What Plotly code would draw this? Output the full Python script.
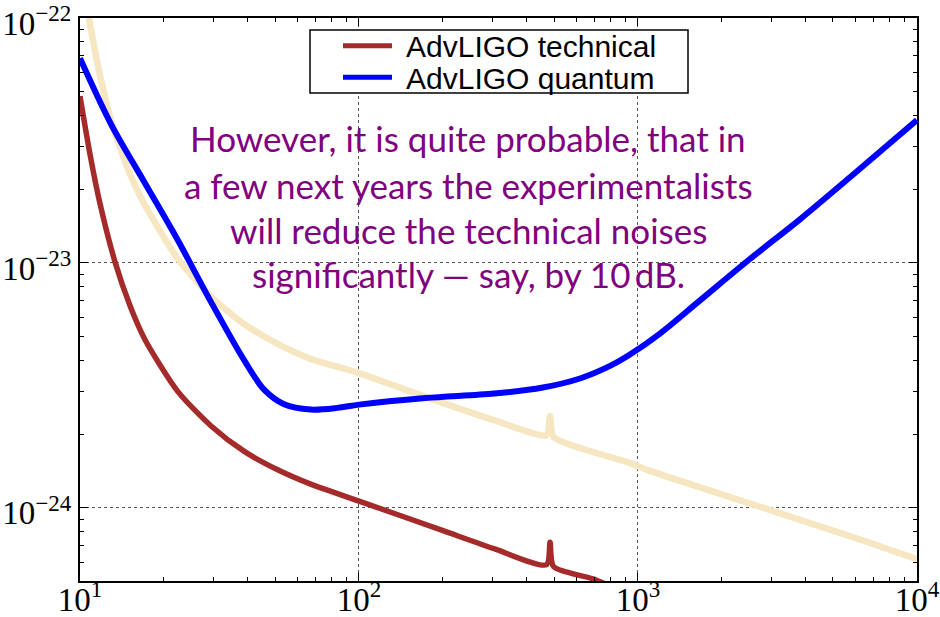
import plotly.graph_objects as go

# ---- data (frequency in Hz, strain amplitude) ----
tech_f = [10, 10.86, 11.79, 13.35, 15.1, 17.1, 22.4, 29.5, 38.8, 51.1, 67.1, 100, 199, 305, 470, 484, 498, 689, 1000]
tech_h = [4.80e-23, 2.78e-23, 1.75e-23, 1.01e-23, 6.70e-24, 4.86e-24, 2.99e-24, 2.16e-24, 1.70e-24,
          1.43e-24, 1.25e-24, 1.066e-24, 8.09e-25, 6.81e-25, 5.86e-25, 7.24e-25, 5.76e-25, 5.13e-25, 4.27e-25]

quant_f = [10, 12.9, 17.0, 22.4, 29.5, 38.8, 45.7, 53.9, 67.1, 83.7, 100, 173, 305, 456, 619, 794, 936,
           1199, 1668, 2480, 3807, 5754, 10000]
quant_h = [6.85e-23, 3.70e-23, 2.14e-23, 1.24e-23, 6.92e-24, 4.0e-24, 3.04e-24, 2.65e-24, 2.52e-24, 2.56e-24,
           2.64e-24, 2.81e-24, 2.93e-24, 3.10e-24, 3.375e-24, 3.80e-24, 4.23e-24,
           5.15e-24, 7.03e-24, 1.023e-23, 1.507e-23, 2.239e-23, 3.83e-23]

orig_f = [10, 10.57, 11.32, 12.09, 13.02, 15.11, 17.0, 22.4, 29.5, 38.8, 51.1, 67.1, 100, 173, 305, 470, 484, 498,
          944, 1099, 2818, 6427, 10000]
orig_h = [1.70e-22, 1.13e-22, 7.33e-23, 5.15e-23, 3.70e-23, 2.30e-23, 1.74e-23, 1.04e-23, 7.28e-24, 5.62e-24,
          4.67e-24, 4.06e-24, 3.55e-24, 2.84e-24, 2.28e-24, 1.98e-24, 2.37e-24, 1.95e-24,
          1.52e-24, 1.42e-24, 1.0e-24, 7.35e-25, 6.18e-25]

x_tickvals = [10, 100, 1000, 10000]
x_ticktext = ["10<sup>1</sup>", "10<sup>2</sup>", "10<sup>3</sup>", "10<sup>4</sup>"]
y_tickvals = [1e-24, 1e-23, 1e-22]
y_ticktext = ["10<sup>\u221224</sup>", "10<sup>\u221223</sup>", "10<sup>\u221222</sup>"]
x_minor = [m * d for d in (10, 100, 1000) for m in range(2, 10)]
y_minor = [m * d for d in (1e-25, 1e-24, 1e-23) for m in range(2, 10)]

legend_labels = ["AdvLIGO technical", "AdvLIGO quantum"]
note_lines = ["However, it is quite probable, that in",
              "a few next years the experimentalists",
              "will reduce the technical noises",
              "significantly \u2014 say, by 10\u2009dB."]

BROWN = "#a52a2a"
BLUE = "#0000ff"
CREAM = "rgb(246,230,193)"

fig = go.Figure()
fig.add_trace(go.Scatter(x=orig_f, y=orig_h, mode="lines",
                         line=dict(color=CREAM, width=6.5, shape="spline", smoothing=0.6),
                         showlegend=False))
fig.add_trace(go.Scatter(x=tech_f, y=tech_h, mode="lines",
                         line=dict(color=BROWN, width=5.5, shape="spline", smoothing=0.7),
                         name=legend_labels[0], showlegend=False))
fig.add_trace(go.Scatter(x=quant_f, y=quant_h, mode="lines",
                         line=dict(color=BLUE, width=6, shape="spline", smoothing=0.9),
                         name=legend_labels[1], showlegend=False))

L, R, T, B = 80, 917, 18, 581
W, H = 940, 617
def px(xp):
    return (xp - L) / (R - L)
def py(yp):
    return (B - yp) / (B - T)

axis_common = dict(
    type="log", showline=True, linewidth=2, linecolor="black", mirror="ticks",
    ticks="inside", ticklen=8, tickwidth=1, tickcolor="black",
    showgrid=True, gridcolor="#555", gridwidth=1, griddash="dot",
    zeroline=False, automargin=False, ticklabeloverflow="allow",
    tickfont=dict(family="Liberation Serif, DejaVu Serif, serif", size=33, color="black"),
)

fig.update_layout(
    width=W, height=H,
    margin=dict(l=L, r=W - R, t=T, b=H - B),
    paper_bgcolor="white", plot_bgcolor="white",
    xaxis=dict(range=[1, 4.0001], tickmode="array", tickvals=x_tickvals, ticktext=x_ticktext,
               ticklabelstandoff=-12,
               minor=dict(tickmode="array", tickvals=x_minor, ticks="inside", ticklen=4,
                          tickcolor="black", tickwidth=1, showgrid=False),
               **axis_common),
    yaxis=dict(range=[-24.2986, -21.9999], tickmode="array", tickvals=y_tickvals, ticktext=y_ticktext,
               ticklabelshift=5,
               minor=dict(tickmode="array", tickvals=y_minor, ticks="inside", ticklen=4,
                          tickcolor="black", tickwidth=1, showgrid=False),
               **axis_common),
    showlegend=False,
)

# manual legend
shapes = [dict(type="rect", xref="paper", yref="paper", x0=px(310), x1=px(688), y0=py(93), y1=py(30),
               line=dict(color="black", width=1.5), fillcolor="white", layer="above")]
for yy, col in ((45.7, BROWN), (77.3, BLUE)):
    shapes.append(dict(type="line", xref="paper", yref="paper", x0=px(343), x1=px(392), y0=py(yy), y1=py(yy),
                       line=dict(color=col, width=5), layer="above"))
fig.update_layout(shapes=shapes)

annotations = []
for yy, lab in zip((45.7, 77.3), legend_labels):
    annotations.append(dict(xref="paper", yref="paper", x=px(404), y=py(yy + 1), xanchor="left", yanchor="middle",
                            text=lab, showarrow=False,
                            font=dict(family="Liberation Sans, Arial, sans-serif", size=30, color="black")))
for yy, line in zip((138, 185, 230, 274), note_lines):
    annotations.append(dict(xref="paper", yref="paper", x=px(468), y=py(yy), xanchor="center", yanchor="middle",
                            text=line, showarrow=False,
                            font=dict(family="Lato, sans-serif", size=35, color="#800080")))
fig.update_layout(annotations=annotations)

fig.write_html("out.html")
